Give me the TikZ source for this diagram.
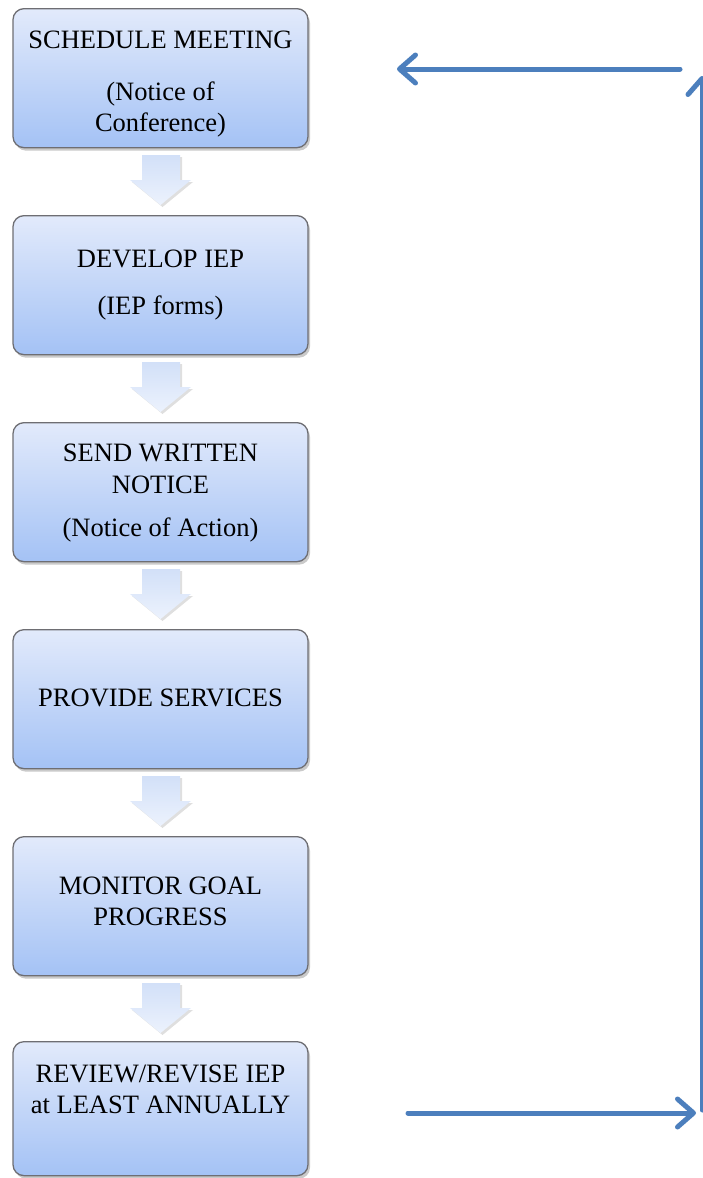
\documentclass[tikz,border=0pt]{standalone}
\usepackage{fontspec}
\setmainfont{Liberation Serif}
\usetikzlibrary{shadows,arrows.meta}
\definecolor{boxtop}{RGB}{226,234,251}
\definecolor{boxbot}{RGB}{164,194,245}
\definecolor{boxline}{RGB}{110,110,115}
\definecolor{flowtop}{RGB}{210,224,248}
\definecolor{flowbot}{RGB}{236,242,253}
\definecolor{loopblue}{RGB}{76,127,189}
\tikzset{
  stepbox/.style={draw=boxline, line width=1.3pt, rounded corners=11pt,
    top color=boxtop, bottom color=boxbot, minimum width=295pt,
    drop shadow={shadow xshift=2pt, shadow yshift=-3pt, opacity=0.35, fill=black!60},
    inner sep=0pt},
  steptext/.style={anchor=base, font=\fontsize{26.5}{32}\selectfont, inner sep=0pt},
  flowarrow/.style={top color=flowtop, bottom color=flowbot, draw=none,
    drop shadow={shadow xshift=2pt, shadow yshift=-2pt, opacity=0.25, fill=black!50}},
  loop/.style={draw=loopblue, line width=5pt, line cap=round,
    -{Straight Barb[length=16pt, width=28pt, line cap=round, round]}},
}
\begin{document}
\begin{tikzpicture}[x=1pt,y=-1pt]
\useasboundingbox (0,0) rectangle (703,1178);
% boxes
\node[stepbox, minimum height=139pt, anchor=north] (b1) at (160.5,8) {};
\node[stepbox, minimum height=139pt, anchor=north] (b2) at (160.5,215) {};
\node[stepbox, minimum height=139pt, anchor=north] (b3) at (160.5,422) {};
\node[stepbox, minimum height=139pt, anchor=north] (b4) at (160.5,629) {};
\node[stepbox, minimum height=139pt, anchor=north] (b5) at (160.5,836) {};
\node[stepbox, minimum height=134pt, anchor=north] (b6) at (160.5,1041) {};
% flow arrows
\foreach \t/\n in {155/a1,362/a2,569/a3,776/a4,983/a5}{
  \path[flowarrow] (142,\t) -- (180,\t) -- (180,\t+25) -- (191,\t+25)
     -- (160.5,\t+50) -- (130,\t+25) -- (142,\t+25) -- cycle;
}
% texts
\node[steptext] (t11) at (160.5,48) {SCHEDULE MEETING};
\node[steptext] (t12) at (160.5,100) {(Notice of};
\node[steptext] (t13) at (160.5,131) {Conference)};
\node[steptext] (t21) at (160.5,267) {DEVELOP IEP};
\node[steptext] (t22) at (160.5,314) {(IEP forms)};
\node[steptext] (t31) at (160.5,461) {SEND WRITTEN};
\node[steptext] (t32) at (160.5,493) {NOTICE};
\node[steptext] (t33) at (160.5,536) {(Notice of Action)};
\node[steptext] (t41) at (160.5,706) {PROVIDE SERVICES};
\node[steptext] (t51) at (160.5,894) {MONITOR GOAL};
\node[steptext] (t52) at (160.5,925) {PROGRESS};
\node[steptext] (t61) at (160.5,1082) {REVIEW/REVISE IEP};
\node[steptext] (t62) at (160.5,1113) {at LEAST ANNUALLY};
% loop back arrows
\coordinate (r1) at (408,1113);
\coordinate (r2) at (696,1113);
\coordinate (v1) at (702,1110);
\coordinate (v2) at (702,76);
\coordinate (u1) at (680,69);
\coordinate (u2) at (397,69);
\draw[loop] (r1) -- (r2);
\draw[loop] (v1) -- (v2);
\draw[loop] (u1) -- (u2);
\end{tikzpicture}
\end{document}
